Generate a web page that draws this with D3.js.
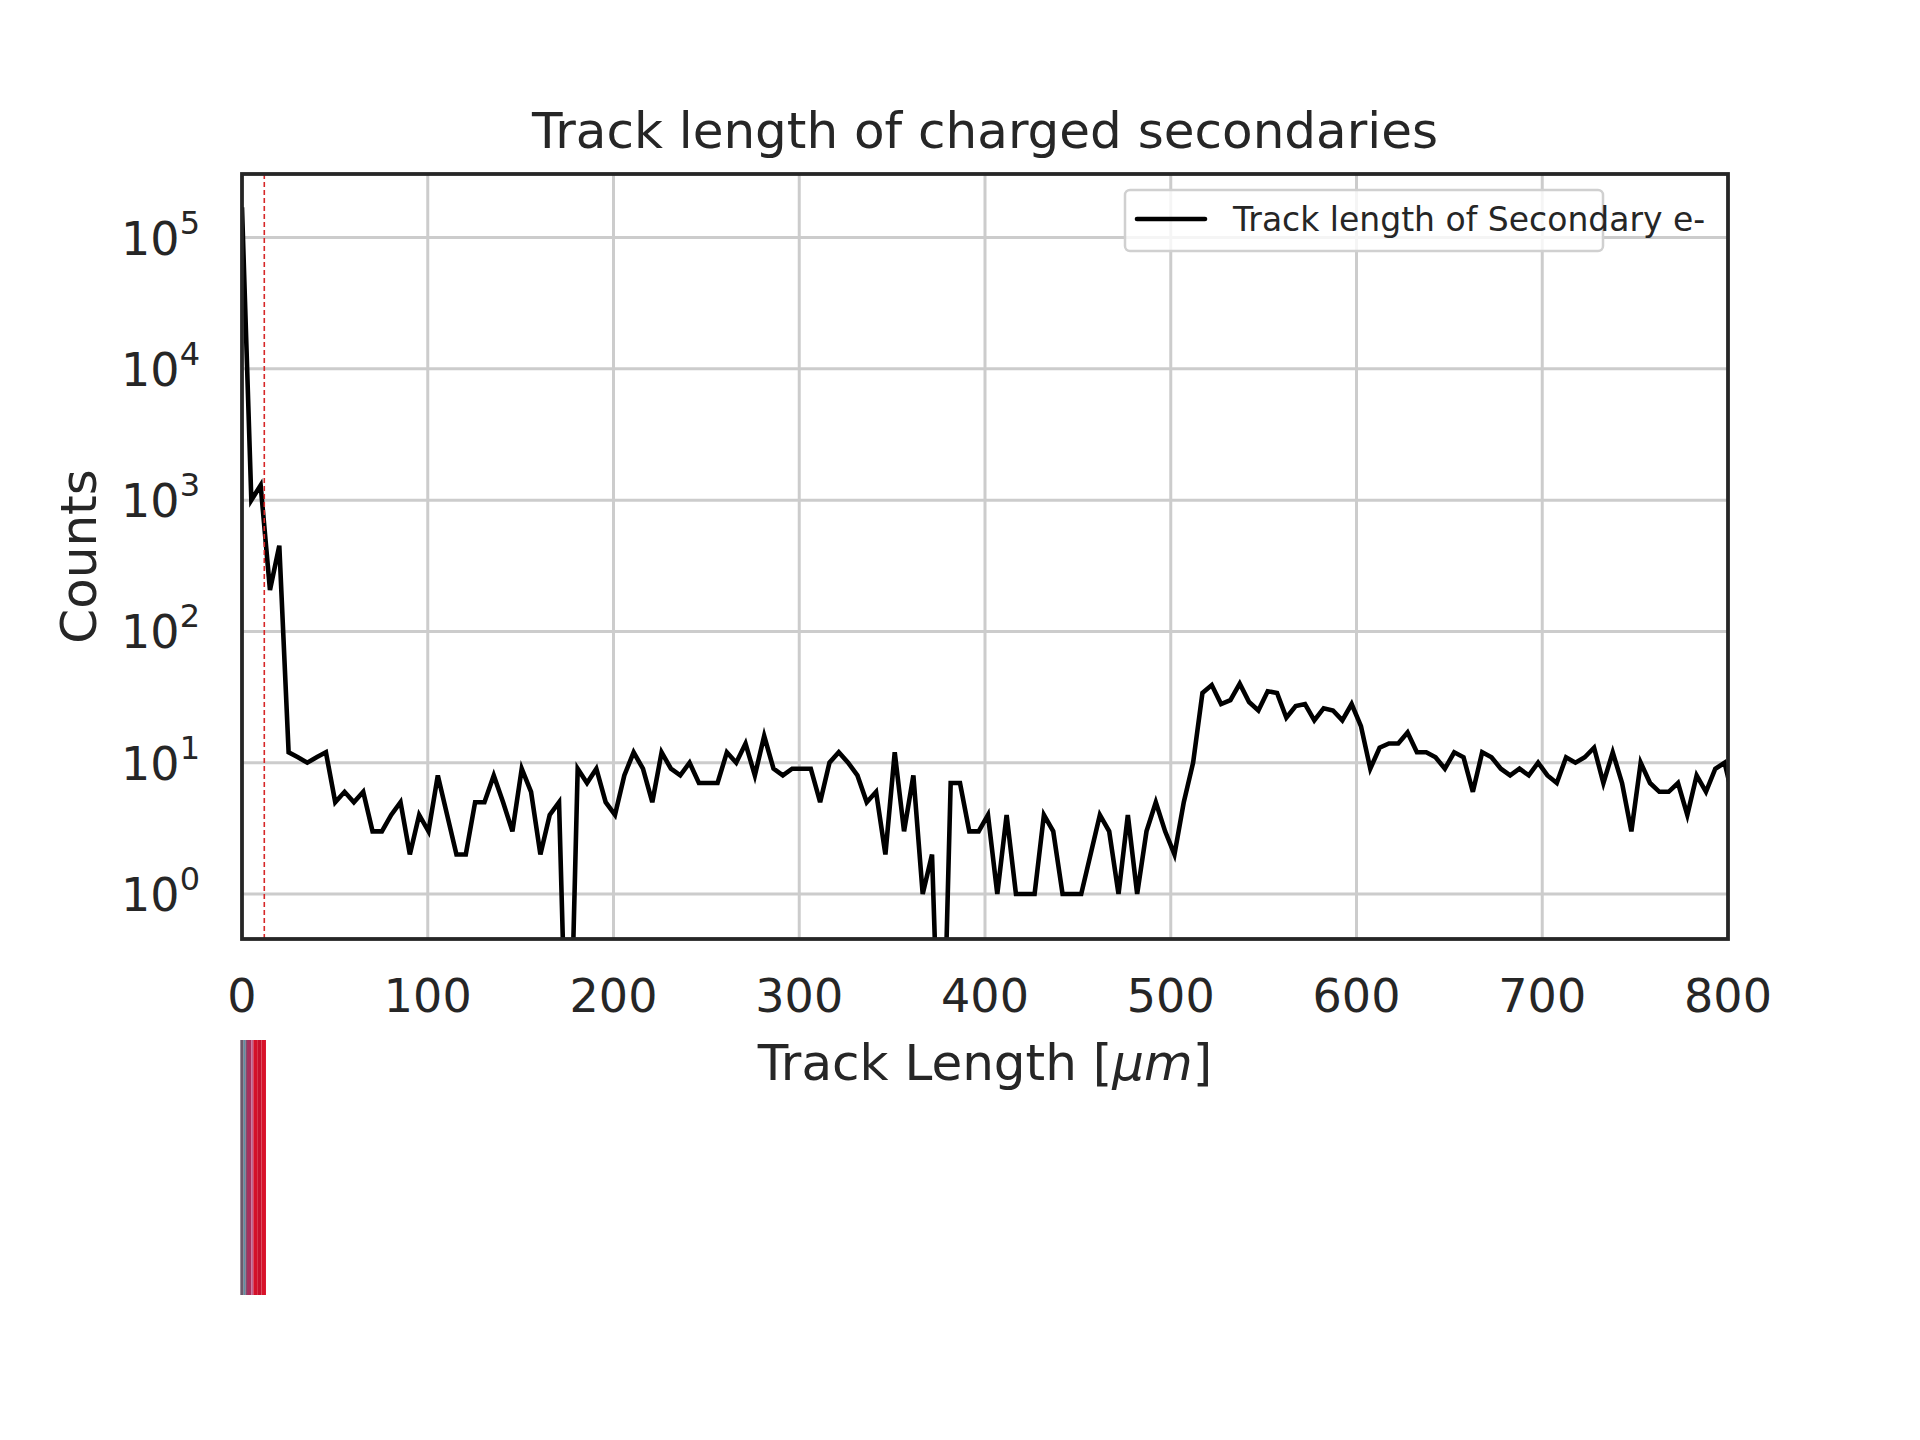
<!DOCTYPE html>
<html>
<head>
<meta charset="utf-8">
<script src="https://cdn.jsdelivr.net/npm/d3@7"></script>
<style>
  body { margin: 0; background: #fff; }
  text { font-family: "DejaVu Sans", sans-serif; fill: #262626; }
</style>
</head>
<body>
<script>
// histogram of secondary e- track lengths, bins start at 0 with fixed width
var binWidth = 5.02
var counts = [
  170000, 1000, 1300, 207, 450, 12, 11, 10, 11, 12,
  5, 6, 5, 6, 3, 3, 4, 5, 2, 4,
  3, 8, 4, 2, 2, 5, 5, 8, 5, 3,
  9, 6, 2, 4, 5, 0, 9, 7, 9, 5,
  4, 8, 12, 9, 5, 12, 9, 8, 10, 7,
  7, 7, 12, 10, 14, 8, 16, 9, 8, 9,
  9, 9, 5, 10, 12, 10, 8, 5, 6, 2,
  12, 3, 8, 1, 2, 0, 7, 7, 3, 3,
  4, 1, 4, 1, 1, 1, 4, 3, 1, 1,
  1, 2, 4, 3, 1, 4, 1, 3, 5, 3,
  2, 5, 10, 34, 39, 28, 30, 40, 29, 25,
  35, 34, 22, 27, 28, 21, 26, 25, 21, 28,
  19, 9, 13, 14, 14, 17, 12, 12, 11, 9,
  12, 11, 6, 12, 11, 9, 8, 9, 8, 10,
  8, 7, 11, 10, 11, 13, 7, 12, 7, 3,
  10, 7, 6, 6, 7, 4, 8, 6, 9, 10,
  5
]
var cutValue = 12   // dashed cut line [um]
var xTicks = [0, 100, 200, 300, 400, 500, 600, 700, 800]
var yTicks = [0, 1, 2, 3, 4, 5]   // exponents

// coloured strip under the axes: start, end [um] and colour
var stripStart = [-0.9, 0.9, 1.8, 2.7, 5.0, 6.1, 8.5, 10.5]
var stripEnd   = [0.9, 1.8, 2.7, 5.0, 6.1, 8.5, 10.5, 12.9]
var stripColor = ['#6c5a6c', '#5b93a4', '#7e4f6e', '#a8305c', '#c0608f', '#d3102a', '#c60f2c', '#d8122a']

var W = 1920, H = 1440
var mLeft = 242, mRight = 1728, mTop = 174, mBottom = 939

var svg = d3.select('body').append('svg')
  .attr('width', W)
  .attr('height', H)

var x = d3.scaleLinear().domain([0, 800]).range([mLeft, mRight])
var y = d3.scaleLog().domain([0.454, 3.05e5]).range([mBottom, mTop])

// grid
svg.append('g').selectAll('line').data(xTicks.slice(1, -1)).enter()
  .append('line')
  .attr('x1', function(d) { return x(d) }).attr('x2', function(d) { return x(d) })
  .attr('y1', mTop).attr('y2', mBottom)
  .style('stroke', '#cccccc').style('stroke-width', 3)

svg.append('g').selectAll('line').data(yTicks).enter()
  .append('line')
  .attr('x1', mLeft).attr('x2', mRight)
  .attr('y1', function(d) { return y(Math.pow(10, d)) })
  .attr('y2', function(d) { return y(Math.pow(10, d)) })
  .style('stroke', '#cccccc').style('stroke-width', 3)

svg.append('defs').append('clipPath').attr('id', 'clip')
  .append('rect').attr('x', mLeft).attr('y', mTop)
  .attr('width', mRight - mLeft).attr('height', mBottom - mTop)

var line = d3.line()
  .x(function(d, i) { return x(i * binWidth) })
  .y(function(d) { return d > 0 ? y(d) : mBottom + 200 })

svg.append('path')
  .datum(counts)
  .attr('clip-path', 'url(#clip)')
  .attr('d', line)
  .style('fill', 'none')
  .style('stroke', '#000')
  .style('stroke-width', 4.6)
  .style('stroke-linejoin', 'miter')

svg.append('line')
  .attr('x1', x(cutValue)).attr('x2', x(cutValue))
  .attr('y1', mTop).attr('y2', mBottom)
  .style('stroke', '#d62728')
  .style('stroke-width', 1.6)
  .style('stroke-dasharray', '5,3')

// frame
svg.append('rect')
  .attr('x', mLeft).attr('y', mTop)
  .attr('width', mRight - mLeft).attr('height', mBottom - mTop)
  .style('fill', 'none').style('stroke', '#262626').style('stroke-width', 3.8)

// x tick labels
svg.append('g').selectAll('text').data(xTicks).enter()
  .append('text')
  .attr('x', function(d) { return x(d) })
  .attr('y', 1012)
  .attr('text-anchor', 'middle')
  .style('font-size', '46px')
  .text(function(d) { return d })

// y tick labels 10^n
var yl = svg.append('g').selectAll('text').data(yTicks).enter()
  .append('text')
  .attr('x', 200)
  .attr('y', function(d) { return y(Math.pow(10, d)) + 17 })
  .attr('text-anchor', 'end')
  .style('font-size', '46px')
yl.append('tspan').text('10')
yl.append('tspan').attr('dy', -21).style('font-size', '32px').text(function(d) { return d })

svg.append('text')
  .attr('x', (mLeft + mRight) / 2).attr('y', 148)
  .attr('text-anchor', 'middle')
  .style('font-size', '50px')
  .text('Track length of charged secondaries')

var xl = svg.append('text')
  .attr('x', (mLeft + mRight) / 2).attr('y', 1080)
  .attr('text-anchor', 'middle')
  .style('font-size', '50px')
xl.append('tspan').text('Track Length [')
xl.append('tspan').style('font-style', 'italic').text('μm')
xl.append('tspan').text(']')

svg.append('text')
  .attr('transform', 'translate(96,' + (mTop + mBottom) / 2 + ') rotate(-90)')
  .attr('text-anchor', 'middle')
  .style('font-size', '50px')
  .text('Counts')

// legend
var lg = svg.append('g')
lg.append('rect')
  .attr('x', 1125).attr('y', 190).attr('width', 603 - 125 + 1000 - 1000).attr('height', 61).attr('rx', 5)
  .style('fill', 'rgba(255,255,255,0.8)').style('stroke', '#d0d0d0').style('stroke-width', 2.5)
lg.append('line')
  .attr('x1', 1137).attr('x2', 1205).attr('y1', 219).attr('y2', 219)
  .style('stroke', '#000').style('stroke-width', 4.6).style('stroke-linecap', 'round')
lg.append('text')
  .attr('x', 1233).attr('y', 231)
  .style('font-size', '33px')
  .text('Track length of Secondary e-')

// strip
svg.append('g').selectAll('rect').data(stripColor).enter()
  .append('rect')
  .attr('x', function(d, i) { return x(stripStart[i]) })
  .attr('width', function(d, i) { return x(stripEnd[i]) - x(stripStart[i]) })
  .attr('y', 1040).attr('height', 255)
  .style('fill', function(d) { return d })
</script>
</body>
</html>
